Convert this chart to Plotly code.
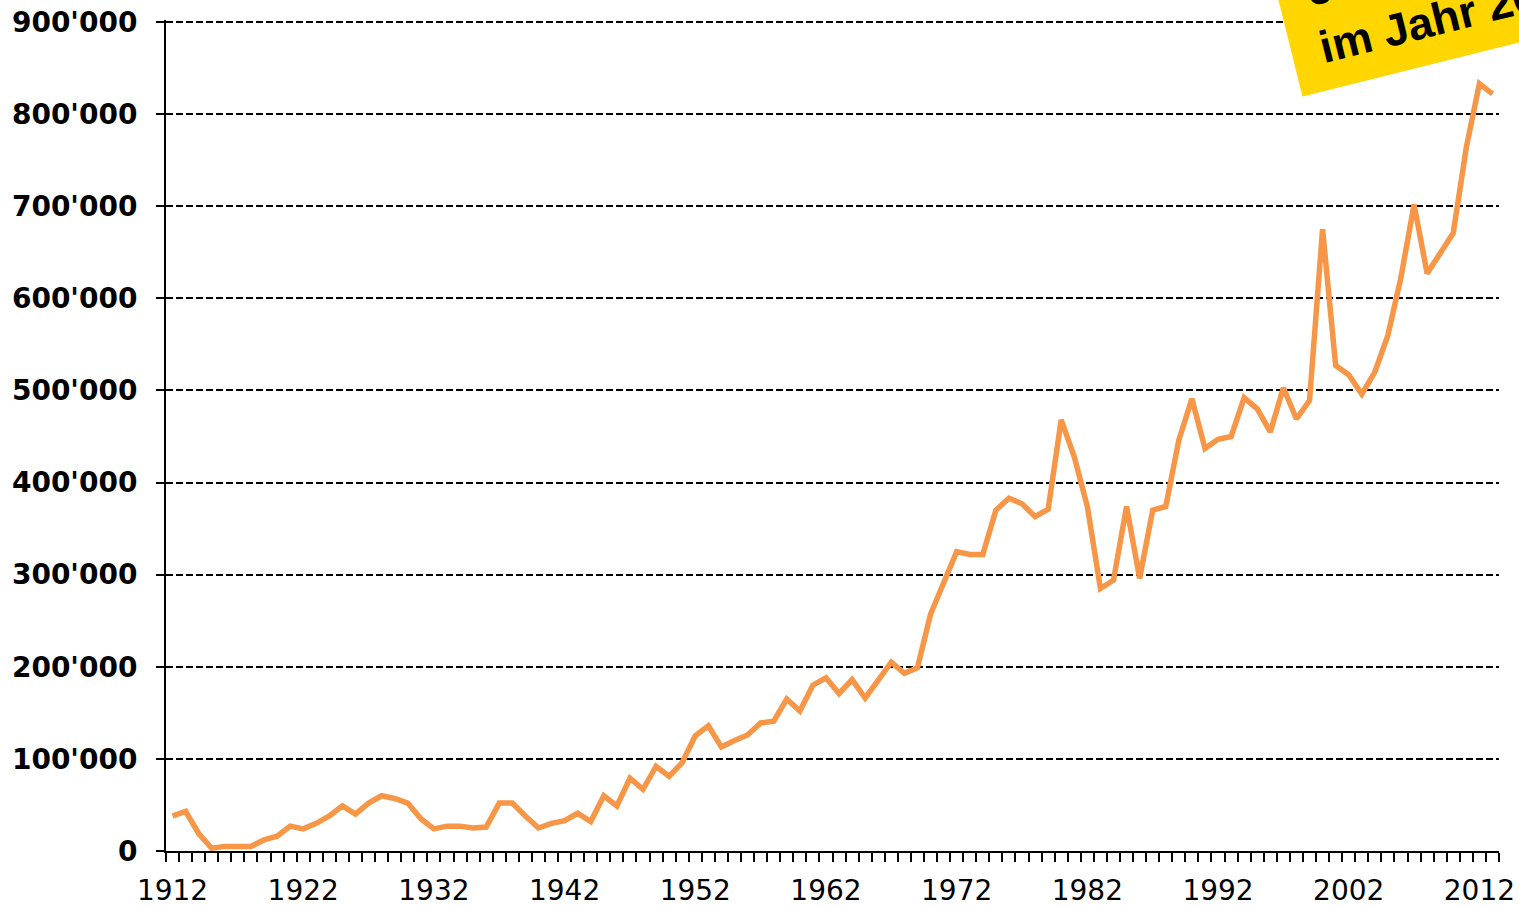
import plotly.graph_objects as go

years = list(range(1912, 2014))
values_k = [
    38, 43, 19, 3, 5, 5, 5, 12, 16, 27,          # 1912-1921
    24, 30, 38, 49, 40, 52, 60, 57, 52, 35,      # 1922-1931
    24, 27, 27, 25, 26, 52, 52, 38, 25, 30,      # 1932-1941
    33, 41, 32, 60, 49, 79, 67, 92, 81, 96,      # 1942-1951
    125, 136, 113, 120, 126, 139, 141, 165, 152, 180,  # 1952-1961
    188, 171, 186, 166, 185, 205, 193, 199, 257, 293,  # 1962-1971
    325, 322, 322, 370, 383, 377, 363, 371, 468, 428,  # 1972-1981
    374, 285, 294, 374, 296, 370, 374, 446, 491, 437,  # 1982-1991
    447, 450, 492, 480, 455, 503, 469, 489, 675, 527,  # 1992-2001
    517, 496, 520, 560, 623, 702, 627, 649, 671, 764,  # 2002-2011
    833, 822,                                          # 2012-2013
]
values = [v * 1000 for v in values_k]

y_ticks = [0, 100000, 200000, 300000, 400000, 500000, 600000, 700000, 800000, 900000]
y_labels = ["0", "100'000", "200'000", "300'000", "400'000", "500'000",
            "600'000", "700'000", "800'000", "900'000"]
x_ticks = [1912, 1922, 1932, 1942, 1952, 1962, 1972, 1982, 1992, 2002, 2012]
x_labels = [str(v) for v in x_ticks]

annotation_lines = ["erstmals über 800'000", "im Jahr 2012"]

fig = go.Figure(
    go.Scatter(
        x=years, y=values, mode="lines",
        line=dict(color="#F79646", width=5.5),
        hoverinfo="skip",
    )
)

fig.update_layout(
    width=1519, height=906,
    margin=dict(l=166, r=20, t=20, b=55, autoexpand=False),
    plot_bgcolor="white", paper_bgcolor="white",
    showlegend=False,
)

fig.update_xaxes(
    range=[1911.5, 2013.5], automargin=False,
    tickmode="array", tickvals=x_ticks, ticktext=x_labels,
    ticks="outside", ticklen=13, tickcolor="rgba(0,0,0,0)",
    tickfont=dict(family="DejaVu Sans", size=28, color="black"),
    showline=True, linecolor="black", linewidth=2,
    showgrid=False, zeroline=False,
    minor=dict(tickmode="linear", tick0=1911.5, dtick=1, ticks="outside",
               ticklen=9, tickwidth=2, tickcolor="black", showgrid=False),
)

# small headroom above 900'000 so that its dashed gridline is drawn
fig.update_yaxes(
    range=[0, 902200], automargin=False,
    tickmode="array", tickvals=y_ticks, ticktext=y_labels,
    ticks="outside", ticklen=8, tickwidth=2, tickcolor="black",
    tickfont=dict(family="DejaVu Sans", size=28, color="black", weight="bold"),
    ticklabeloverflow="allow",
    showline=True, linecolor="black", linewidth=2,
    showgrid=True, gridcolor="black", gridwidth=2, griddash="7px,3px",
    zeroline=False, ticklabelstandoff=13,
)

fig.add_annotation(
    text="<br>".join("\u00a0" + s for s in annotation_lines),
    xref="paper", yref="paper",
    x=0.8260, y=0.9073, xanchor="left", yanchor="bottom",
    showarrow=False, textangle=-14, align="left",
    bgcolor="#FFD600", borderpad=16,
    font=dict(family="Liberation Sans", size=45, color="black", weight="bold"),
)

fig.write_html(
    "out.html",
    config={"displayModeBar": False},
    post_script="document.body.style.margin='0';document.body.style.overflow='hidden';",
)
